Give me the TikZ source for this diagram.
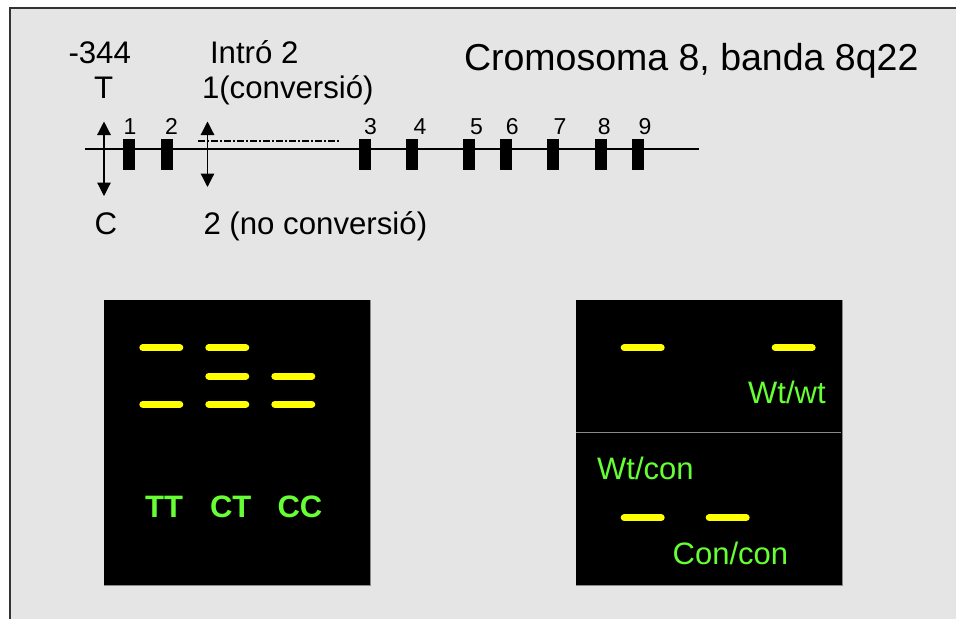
\documentclass[tikz,border=0pt]{standalone}
\usepackage{fontspec}
\setmainfont{Liberation Sans}
\usetikzlibrary{arrows.meta}
\definecolor{panel}{HTML}{E5E5E5}
\definecolor{frameline}{HTML}{333333}
\definecolor{gelgreen}{HTML}{66FF33}
\definecolor{band}{HTML}{FFFF00}
\definecolor{gelshadow}{HTML}{8A8A8A}
\tikzset{
  txt/.style={inner sep=0pt, outer sep=0pt, anchor=base west, font=\fontsize{31.2}{34}\selectfont},
  exonnum/.style={inner sep=0pt, anchor=base, font=\fontsize{23}{26}\selectfont},
  exon/.style={fill=black, draw=none, minimum width=12pt, minimum height=31pt, inner sep=0pt},
  gel/.style={fill=black, draw=none, inner sep=0pt, anchor=north west},
  gelband/.style={draw=band, line width=7pt, line cap=round},
  genotype/.style={inner sep=0pt, anchor=base, text=gelgreen, font=\bfseries\fontsize{31}{34}\selectfont},
  allele/.style={inner sep=0pt, anchor=base west, text=gelgreen, font=\fontsize{31}{34}\selectfont},
  snphead/.tip={Triangle[width=13.5pt,length=13.5pt]},
  snp/.style={line width=1.2pt, snphead-snphead},
}
\begin{document}
\begin{tikzpicture}[x=1pt, y=-1pt]
  \useasboundingbox (0,0) rectangle (956,619);
  % slide background and frame
  \fill[white] (0,0) rectangle (956,619);
  \fill[panel] (10,7) rectangle (956,619);
  \draw[frameline, line width=2pt] (10,619) -- (10,7.5) -- (956,7.5);

  % header texts
  \node[txt] (pos) at (68.5,63) {-344};
  \node[txt] (alT) at (94,98) {T};
  \node[txt] (alC) at (94.5,234) {C};
  \node[txt] (intron) at (210,63) {Intró 2};
  \node[txt] (conv) at (202,98) {1(conversió)};
  \node[txt] (noconv) at (203.5,234) {2 (no conversió)};
  \node[txt, font=\fontsize{37.5}{40}\selectfont] (title) at (464,70) {Cromosoma 8, banda 8q22};

  % gene axis
  \coordinate (axL) at (85,149);
  \coordinate (axR) at (699,149);
  \draw[line width=1.3pt] (axL) -- (axR);

  % exons
  \foreach \n/\x/\lx in {1/128.5/130, 2/166.5/171.5, 3/364.5/370.5, 4/412/420,
                         5/468.5/476.5, 6/506.3/512.3, 7/553.3/560, 8/601/604.3, 9/638.3/645} {
    \node[exon] (ex\n) at (\x,154.5) {};
    \node[exonnum] (exn\n) at (\lx,134) {\n};
  }

  % polymorphism positions
  \coordinate (snpA) at (104,121.5);
  \coordinate (snpB) at (104,196);
  \draw[snp] (snpA) -- (snpB);
  \coordinate (cvA) at (207.5,121.5);
  \coordinate (cvB) at (207.5,187);
  \draw[snp] (cvA) -- (cvB);

  % converted stretch of intron 2
  \coordinate (dsA) at (198,141);
  \coordinate (dsB) at (339,141);
  \draw[line width=1.2pt, dash pattern=on 6.5pt off 2.5pt on 1.5pt off 2.5pt] (dsA) -- (dsB);

  % left gel
  \draw[gelshadow, line width=1.5pt] (370,300) -- (370,585.5) -- (104,585.5);
  \node[gel, minimum width=266pt, minimum height=285pt] (gelL) at (104,300) {};
  \foreach \x/\y in {161.3/347.7, 161.3/404.3, 227.3/347.7, 227.3/376, 227.3/404.3, 293.3/376, 293.3/404.3} {
    \draw[gelband] (\x-18.5,\y) -- (\x+18.5,\y);
  }
  \node[genotype] (gTT) at (164,517.5) {TT};
  \node[genotype] (gCT) at (230.7,517.5) {CT};
  \node[genotype] (gCC) at (300,517.5) {CC};

  % right gel
  \draw[gelshadow, line width=1.5pt] (842,300) -- (842,585.5) -- (576,585.5);
  \node[gel, minimum width=266pt, minimum height=285pt] (gelR) at (576,300) {};
  \coordinate (divL) at (576,432.7);
  \coordinate (divR) at (841,432.7);
  \draw[gelshadow, line width=1.3pt] (divL) -- (divR);
  \foreach \x/\y in {642.7/347.7, 793.7/347.7, 642.7/517.7, 727.7/517.7} {
    \draw[gelband] (\x-18.5,\y) -- (\x+18.5,\y);
  }
  \node[allele] (wtwt) at (748,403.3) {Wt/wt};
  \node[allele] (wtcon) at (597,479.3) {Wt/con};
  \node[allele] (concon) at (672.5,564) {Con/con};
\end{tikzpicture}
\end{document}
